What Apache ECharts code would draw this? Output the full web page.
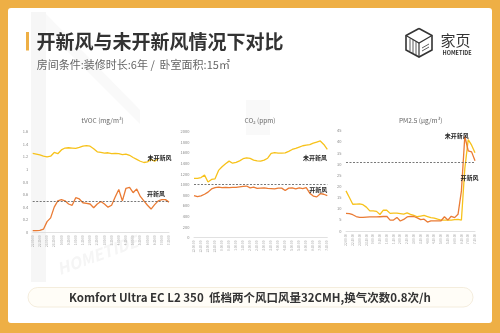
<!DOCTYPE html>
<html>
<head>
<meta charset="utf-8">
<script src="https://cdn.jsdelivr.net/npm/echarts@6/dist/echarts.min.js"></script>
<style>
  html, body { margin: 0; padding: 0; background: #EEAF45; }
  #chart { width: 500px; height: 333px; }
</style>
</head>
<body>
<div id="chart"></div>
<script>
// Readings every 15 minutes, 22:00 -> 7:30
const times = ['22:00:00','22:15:00','22:30:00','22:45:00','23:00:00','23:15:00','23:30:00','23:45:00',
  '0:00:00','0:15:00','0:30:00','0:45:00','1:00:00','1:15:00','1:30:00','1:45:00',
  '2:00:00','2:15:00','2:30:00','2:45:00','3:00:00','3:15:00','3:30:00','3:45:00',
  '4:00:00','4:15:00','4:30:00','4:45:00','5:00:00','5:15:00','5:30:00','5:45:00',
  '6:00:00','6:15:00','6:30:00','6:45:00','7:00:00','7:15:00','7:30:00'];

// tVOC (mg/m³)
const tvocOff = [1.255,1.245,1.23,1.21,1.20,1.21,1.27,1.25,1.31,1.34,1.345,1.34,1.335,1.35,1.37,1.38,1.37,1.33,1.28,1.27,
  1.26,1.265,1.25,1.255,1.25,1.235,1.245,1.225,1.19,1.16,1.13,1.11,1.12,1.16,1.13,1.17,null,null,null];
const tvocOn = [0.026,0.026,0.03,0.05,0.17,0.23,0.40,0.50,0.52,0.50,0.45,0.43,0.55,0.53,0.47,0.46,0.45,0.39,0.45,0.49,
  0.45,0.40,0.43,0.56,0.68,0.50,0.70,0.715,0.63,0.69,0.57,0.50,0.43,0.37,0.44,0.50,0.52,0.52,0.48];

// CO2 (ppm)
const co2Off = [1120,1120,1135,1180,1050,1100,1110,1270,1340,1395,1445,1405,1420,1450,1490,1505,1495,1465,1450,1445,
  1465,1500,1590,1605,1595,1595,1600,1630,1665,1685,1710,1735,1745,1755,1785,1805,1825,1760,1665];
const co2On = [795,775,790,820,860,920,945,955,945,950,945,950,950,960,970,975,940,955,930,935,
  940,930,925,920,935,935,890,935,940,920,940,925,945,840,785,770,830,820,795];

// PM2.5 (μg/m³)
const pmOff = [18.0,15.0,12.0,12.1,12.2,11.8,10.7,9.0,9.0,8.8,7.4,9.4,9.3,7.9,8.0,8.0,7.8,7.6,8.1,7.5,
  7.0,6.4,6.7,7.0,6.5,6.0,5.8,5.3,4.9,4.9,4.9,4.9,5.1,5.2,4.9,28.0,41.0,38.5,35.1];
const pmOn = [7.9,7.8,7.3,6.5,6.1,6.1,6.2,6.3,6.3,6.3,6.4,6.5,6.6,4.9,4.9,6.1,4.5,5.2,6.3,6.6,
  6.5,5.9,5.1,5.3,4.0,4.5,4.5,4.5,4.6,6.4,4.9,6.6,6.0,7.5,18.0,42.5,36.0,35.5,31.5];

// Reference levels drawn as dashed lines
const tvocRef = 0.5;
const co2Ref = 1000;
const pmRef = 31;

const chartTitles = ['tVOC (mg/m³)', 'CO₂ (ppm)', 'PM2.5 (μg/m³)'];
const seriesNames = ['未开新风', '开新风'];

const FONT = '"Noto Sans CJK SC", "Noto Sans", sans-serif';
const YELLOW = '#F7C21B';
const ORANGE = '#EA7B34';

const grids = [
  { left: 32.7, top: 131.7, width: 136.3, height: 100.6 },
  { left: 194, top: 131.7, width: 133.3, height: 106 },
  { left: 346, top: 130.7, width: 129, height: 100.3 }
];
const yRanges = [
  { max: 1.6, interval: 0.2 },
  { max: 2000, interval: 200 },
  { max: 45, interval: 5 }
];

function xAxis(i) {
  return {
    type: 'category', gridIndex: i, data: times, boundaryGap: false,
    axisLine: { lineStyle: { color: '#d9d9d9', width: 0.8 } },
    axisTick: { show: false },
    axisLabel: { interval: 1, rotate: 90, fontSize: 3, color: '#9a9a9a', margin: 3, fontFamily: FONT }
  };
}
function yAxis(i) {
  return {
    type: 'value', gridIndex: i, min: 0, max: yRanges[i].max, interval: yRanges[i].interval,
    axisLine: { show: false }, axisTick: { show: false }, splitLine: { show: false },
    axisLabel: { fontSize: 4, color: '#8a8a8a', margin: 4.5, fontFamily: FONT, formatter: v => String(v) }
  };
}
function line(i, name, data, color, ref) {
  const s = {
    type: 'line', name: name, xAxisIndex: i, yAxisIndex: i, data: data,
    symbol: 'none', smooth: false, connectNulls: false,
    lineStyle: { color: color, width: 1.3 }, z: 3
  };
  if (ref !== undefined) {
    s.markLine = {
      silent: true, symbol: 'none', label: { show: false },
      lineStyle: { color: '#555', type: [2, 1.5], width: 0.8 },
      data: [{ yAxis: ref }]
    };
  }
  return s;
}

const chart = echarts.init(document.getElementById('chart'), null, { renderer: 'canvas' });

function label(text, x, y) {
  return { type: 'text', x: x, y: y, z: 20,
    style: { text: text, fontSize: 6, fontWeight: 'bold', fill: '#222', fontFamily: FONT, textAlign: 'center', textVerticalAlign: 'middle' } };
}

const option = {
  backgroundColor: '#EEAF45',
  animation: false,
  title: [
    { text: chartTitles[0], left: 97.7, top: 112, textAlign: 'center', textStyle: { fontSize: 6.5, fontWeight: 'normal', color: '#666', fontFamily: FONT } },
    { text: chartTitles[1], left: 255, top: 112, textAlign: 'center', textStyle: { fontSize: 6.5, fontWeight: 'normal', color: '#666', fontFamily: FONT } },
    { text: chartTitles[2], left: 415.7, top: 112, textAlign: 'center', textStyle: { fontSize: 6.5, fontWeight: 'normal', color: '#666', fontFamily: FONT } }
  ],
  grid: grids,
  xAxis: [xAxis(0), xAxis(1), xAxis(2)],
  yAxis: [yAxis(0), yAxis(1), yAxis(2)],
  series: [
    line(0, seriesNames[0], tvocOff, YELLOW),
    line(0, seriesNames[1], tvocOn, ORANGE, tvocRef),
    line(1, seriesNames[0], co2Off, YELLOW),
    line(1, seriesNames[1], co2On, ORANGE, co2Ref),
    line(2, seriesNames[0], pmOff, YELLOW),
    line(2, seriesNames[1], pmOn, ORANGE, pmRef)
  ],
  graphic: [
    // white card
    { type: 'rect', shape: { x: 8, y: 8, width: 484, height: 315, r: 3 }, style: { fill: '#ffffff' }, z: -20 },
    // faint background emblem
    { type: 'polygon', shape: { points: [[31, 12], [46, 12], [46, 282], [31, 282]] }, style: { fill: '#f6f6f6' }, z: -15 },
    { type: 'polygon', shape: { points: [[46, 14], [140, 110], [140, 124], [46, 30]] }, style: { fill: '#f9f9f9' }, z: -15 },
    { type: 'polygon', shape: { points: [[246, 100], [270, 100], [270, 135], [246, 135]] }, style: { fill: '#f9f9f9' }, z: -15 },
    { type: 'text', x: 55, y: 262, rotation: 0.35, z: -14,
      style: { text: 'HOMETIDE', fontSize: 16, fontStyle: 'italic', fontWeight: 'bold', fill: '#f5f5f5', fontFamily: FONT } },
    // heading
    { type: 'rect', shape: { x: 26, y: 32, width: 3, height: 18.5 }, style: { fill: '#EEAF45' }, z: 10 },
    { type: 'text', x: 36.5, y: 41.7, z: 10,
      style: { text: '开新风与未开新风情况下对比', fontSize: 19, fontWeight: 'bold', fill: '#333', fontFamily: FONT, textVerticalAlign: 'middle' } },
    { type: 'text', x: 36.7, y: 65, z: 10,
      style: { text: '房间条件:装修时长:6年 /  卧室面积:15㎡', fontSize: 11, fill: '#666', fontFamily: FONT, textVerticalAlign: 'middle' } },
    // logo mark
    { type: 'polyline', z: 10, shape: { points: [[419, 28.5], [432, 35.5], [432, 50], [419, 57], [406, 50], [406, 35.5], [419, 28.5]] },
      style: { stroke: '#333', lineWidth: 1.6, fill: null } },
    { type: 'polyline', z: 10, shape: { points: [[406, 35.5], [419, 43], [432, 35.5]] }, style: { stroke: '#333', lineWidth: 1.2, fill: null } },
    { type: 'polyline', z: 10, shape: { points: [[419, 43], [419, 57]] }, style: { stroke: '#333', lineWidth: 1.2, fill: null } },
    { type: 'polyline', z: 10, shape: { points: [[410, 38.5], [410, 51]] }, style: { stroke: '#333', lineWidth: 0.8 } },
    { type: 'polyline', z: 10, shape: { points: [[413, 40], [413, 53]] }, style: { stroke: '#333', lineWidth: 0.8 } },
    { type: 'polyline', z: 10, shape: { points: [[416, 41.5], [416, 55]] }, style: { stroke: '#333', lineWidth: 0.8 } },
    { type: 'polyline', z: 10, shape: { points: [[422, 48], [429, 44]] }, style: { stroke: '#333', lineWidth: 0.8 } },
    { type: 'polyline', z: 10, shape: { points: [[422, 51], [429, 47]] }, style: { stroke: '#333', lineWidth: 0.8 } },
    { type: 'text', x: 440.5, y: 40, z: 10,
      style: { text: '家页', fontSize: 15, fill: '#333', fontFamily: FONT, textVerticalAlign: 'middle' } },
    { type: 'text', x: 457, y: 52.5, z: 10,
      style: { text: 'HOMETIDE', fontSize: 5.5, fontWeight: 'bold', fill: '#333', fontFamily: FONT, textAlign: 'center', textVerticalAlign: 'middle' } },
    // series tags
    label(seriesNames[0], 159.5, 157.3),
    label(seriesNames[1], 156, 193.3),
    label(seriesNames[0], 315, 157.3),
    label(seriesNames[1], 318.3, 189.3),
    label(seriesNames[0], 456.7, 135.7),
    label(seriesNames[1], 469.5, 177.7),
    // footer note
    { type: 'rect', z: 5, shape: { x: 28, y: 287.5, width: 445, height: 19.5, r: 10 },
      style: { fill: '#fffdf7', stroke: '#f1e8d6', lineWidth: 0.8 } },
    { type: 'text', x: 250, y: 297.6, z: 10,
      style: { text: 'Komfort Ultra EC L2 350  低档两个风口风量32CMH,换气次数0.8次/h', fontSize: 11.5, fontWeight: 'bold', fill: '#333',
        fontFamily: FONT, textAlign: 'center', textVerticalAlign: 'middle' } }
  ]
};
chart.setOption(option);
</script>
</body>
</html>
